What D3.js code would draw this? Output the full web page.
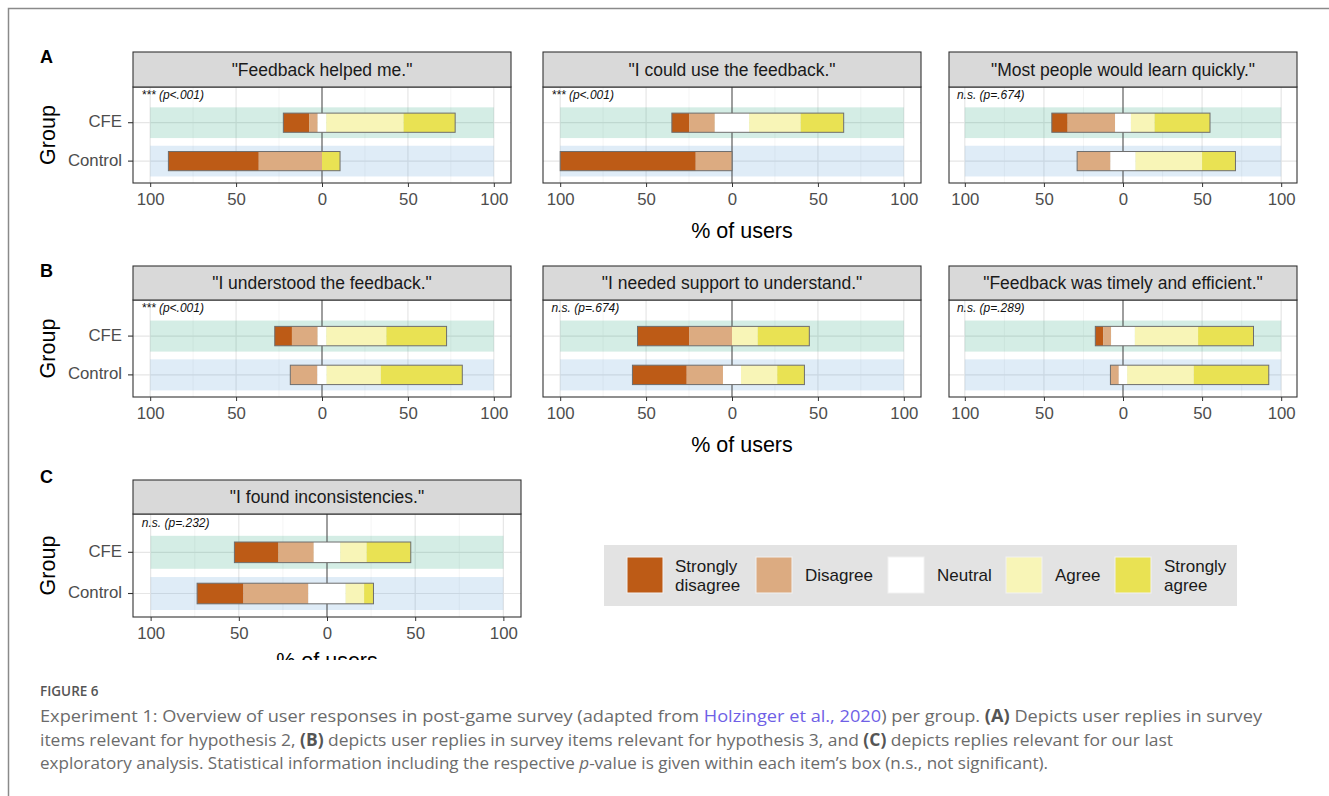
<!DOCTYPE html>
<html>
<head>
<meta charset="utf-8">
<script src="https://cdn.jsdelivr.net/npm/d3@7"></script>
<style>
  body { margin: 0; background: #fff; }
</style>
</head>
<body>
<script>
// DATA
const items = ['"Feedback helped me."', '"I could use the feedback."', '"Most people would learn quickly."',
  '"I understood the feedback."', '"I needed support to understand."', '"Feedback was timely and efficient."',
  '"I found inconsistencies."'];
const pLabels = ['*** (p<.001)', '*** (p<.001)', 'n.s. (p=.674)', '*** (p<.001)', 'n.s. (p=.674)',
  'n.s. (p=.289)', 'n.s. (p=.232)'];
const levels = ['Strongly disagree', 'Disagree', 'Neutral', 'Agree', 'Strongly agree'];
const legendLines = [['Strongly', 'disagree'], ['Disagree'], ['Neutral'], ['Agree'], ['Strongly', 'agree']];
const groups = ['CFE', 'Control'];
// % of users per answer level (same order as levels), one row per item
const cfeValues = [
  [15, 5, 5, 45, 30],
  [10, 15, 20, 30, 25],
  [10, 30, 10, 15, 35],
  [10, 15, 5, 35, 35],
  [30, 25, 0, 15, 30],
  [5, 5, 15, 40, 35],
  [25, 20, 15, 15, 25]
];
const controlValues = [
  [52.6, 36.8, 0, 0, 10.5],
  [78.9, 21.1, 0, 0, 0],
  [0, 21.1, 15.8, 42.1, 21.1],
  [0, 15.8, 5.3, 31.6, 47.4],
  [31.6, 21.1, 10.5, 21.1, 15.8],
  [0, 5.3, 5.3, 42.1, 47.4],
  [26.3, 36.8, 21.1, 10.5, 5.3]
];
const majorTicks = [-100, -50, 0, 50, 100];
const minorTicks = [-75, -25, 25, 75];
const rowLetters = ['A', 'B', 'C'];

// DEFS
const width = 1329;
const height = 796;
const levelColors = ['#bd5b16', '#dcab81', '#ffffff', '#f8f5b7', '#e9e253'];
const bandColors = {CFE: 'rgba(27,158,119,0.19)', Control: 'rgba(80,150,210,0.18)'};
const chartFont = '"Liberation Sans", Arial, sans-serif';
const captionFont = '"Open Sans", "Noto Sans", sans-serif';

// panel boxes: left/right edge, strip top, strip bottom (= panel top), panel bottom
const panels = [
  {x0: 133, x1: 511, top: 52, strip: 87, bottom: 183, yAxis: true},
  {x0: 543, x1: 921, top: 52, strip: 87, bottom: 183, xTitle: 742},
  {x0: 949, x1: 1297, top: 52, strip: 87, bottom: 183},
  {x0: 133, x1: 511, top: 266, strip: 300, bottom: 397, yAxis: true},
  {x0: 543, x1: 921, top: 266, strip: 300, bottom: 397, xTitle: 742},
  {x0: 949, x1: 1297, top: 266, strip: 300, bottom: 397},
  {x0: 133, x1: 521, top: 480, strip: 514, bottom: 617, yAxis: true, xTitle: 327, titleY: 668}
];
const letterPos = [{x: 40, y: 63}, {x: 40, y: 277}, {x: 40, y: 483}];

const svg = d3.select('body').append('svg')
  .attr('width', width).attr('height', height)
  .style('font-family', chartFont);

svg.append('rect').attr('width', width).attr('height', height).attr('fill', '#fff');

// outer frame
svg.append('path')
  .attr('d', `M8.5,${height} L8.5,8.5 L${width},8.5`)
  .attr('fill', 'none').attr('stroke', '#8a8a8a').attr('stroke-width', 1.5);

// the figure is cut off just below the last axis
svg.append('clipPath').attr('id', 'figClip')
  .append('rect').attr('x', 0).attr('y', 0).attr('width', width).attr('height', 660);

const fig = svg.append('g').attr('clip-path', 'url(#figClip)');

rowLetters.forEach((l, i) => {
  fig.append('text')
    .attr('x', letterPos[i].x).attr('y', letterPos[i].y)
    .style('font-size', '18px').style('font-weight', 'bold')
    .text(l);
});

// stack each row so that the neutral answer is centred on 0
const stackRow = vals => {
  let start = -(vals[0] + vals[1] + vals[2] / 2);
  return vals.map((v, i) => {
    const seg = {level: levels[i], x0: start, x1: start + v, color: levelColors[i]};
    start += v;
    return seg;
  });
};

panels.forEach((p, idx) => {
  const g = fig.append('g').attr('class', 'panel');
  const x = d3.scaleLinear().domain([-110, 110]).range([p.x0, p.x1]);
  const y = d3.scaleLinear().domain([0.43, 2.93]).range([p.bottom, p.strip]);
  const groupY = {CFE: 2, Control: 1};

  // grid
  g.selectAll('.minor').data(minorTicks).enter().append('line')
    .attr('x1', d => x(d)).attr('x2', d => x(d))
    .attr('y1', p.strip).attr('y2', p.bottom)
    .attr('stroke', '#f2f2f2').attr('stroke-width', 0.8);
  g.selectAll('.major').data(majorTicks).enter().append('line')
    .attr('x1', d => x(d)).attr('x2', d => x(d))
    .attr('y1', p.strip).attr('y2', p.bottom)
    .attr('stroke', '#e6e6e6').attr('stroke-width', 1.2);
  g.selectAll('.hgrid').data(groups).enter().append('line')
    .attr('x1', p.x0).attr('x2', p.x1)
    .attr('y1', d => y(groupY[d])).attr('y2', d => y(groupY[d]))
    .attr('stroke', '#e6e6e6').attr('stroke-width', 1.2);

  // background bands
  g.selectAll('.band').data(groups).enter().append('rect')
    .attr('x', x(-100)).attr('width', x(100) - x(-100))
    .attr('y', d => y(groupY[d] + 0.4)).attr('height', y(0) - y(0.8))
    .attr('fill', d => bandColors[d]);

  // zero line
  g.append('line')
    .attr('x1', x(0)).attr('x2', x(0))
    .attr('y1', p.strip).attr('y2', p.bottom)
    .attr('stroke', '#4d4d4d').attr('stroke-width', 1);

  // bars
  const rows = [{group: 'CFE', segs: stackRow(cfeValues[idx])},
                {group: 'Control', segs: stackRow(controlValues[idx])}];
  rows.forEach(r => {
    const barTop = y(groupY[r.group] + 0.25);
    const barH = y(0) - y(0.5);
    const segs = r.segs.filter(s => s.x1 - s.x0 > 0);
    g.selectAll(null).data(segs).enter().append('rect')
      .attr('x', s => x(s.x0)).attr('width', s => x(s.x1) - x(s.x0))
      .attr('y', barTop).attr('height', barH)
      .attr('fill', s => s.color);
    const lo = d3.min(segs, s => s.x0), hi = d3.max(segs, s => s.x1);
    g.append('rect')
      .attr('x', x(lo)).attr('width', x(hi) - x(lo))
      .attr('y', barTop).attr('height', barH)
      .attr('fill', 'none').attr('stroke', '#6e6e6e').attr('stroke-width', 1);
  });

  // p-value note
  g.append('text')
    .attr('x', x(-105)).attr('y', y(2.7))
    .attr('dominant-baseline', 'middle')
    .style('font-size', '12px').style('font-style', 'italic')
    .attr('fill', '#111')
    .text(pLabels[idx]);

  // panel border
  g.append('rect')
    .attr('x', p.x0).attr('y', p.strip)
    .attr('width', p.x1 - p.x0).attr('height', p.bottom - p.strip)
    .attr('fill', 'none').attr('stroke', '#333').attr('stroke-width', 1.1);

  // strip
  g.append('rect')
    .attr('x', p.x0).attr('y', p.top)
    .attr('width', p.x1 - p.x0).attr('height', p.strip - p.top)
    .attr('fill', '#d9d9d9').attr('stroke', '#333').attr('stroke-width', 1.1);
  g.append('text')
    .attr('x', (p.x0 + p.x1) / 2).attr('y', (p.top + p.strip) / 2 + 6)
    .attr('text-anchor', 'middle')
    .style('font-size', '17.5px').attr('fill', '#1a1a1a')
    .text(items[idx]);

  // x axis
  const xAxis = d3.axisBottom(x).tickValues(majorTicks)
    .tickSize(4).tickPadding(6).tickFormat(d => Math.abs(d));
  const ax = g.append('g').attr('transform', `translate(0,${p.bottom})`).call(xAxis);
  ax.select('.domain').remove();
  ax.selectAll('.tick line').attr('stroke', '#333');
  ax.selectAll('.tick text')
    .attr('fill', '#4d4d4d').style('font-size', '16.8px').style('font-family', chartFont);

  if (p.xTitle) {
    g.append('text')
      .attr('x', p.xTitle).attr('y', p.titleY || p.bottom + 55)
      .attr('text-anchor', 'middle')
      .style('font-size', '21.5px').attr('fill', '#000')
      .text('% of users');
  }

  // y axis
  if (p.yAxis) {
    groups.forEach(gr => {
      g.append('line')
        .attr('x1', p.x0 - 5).attr('x2', p.x0)
        .attr('y1', y(groupY[gr])).attr('y2', y(groupY[gr]))
        .attr('stroke', '#333').attr('stroke-width', 1.1);
      g.append('text')
        .attr('x', p.x0 - 11).attr('y', y(groupY[gr]))
        .attr('text-anchor', 'end').attr('dominant-baseline', 'middle')
        .style('font-size', '16.8px').attr('fill', '#4d4d4d')
        .text(gr);
    });
    const cy = (p.strip + p.bottom) / 2;
    g.append('text')
      .attr('transform', `translate(55,${cy}) rotate(-90)`)
      .attr('text-anchor', 'middle')
      .style('font-size', '21.5px').attr('fill', '#000')
      .text('Group');
  }
});

// LEGEND
const legend = svg.append('g').attr('class', 'legend');
legend.append('rect')
  .attr('x', 604).attr('y', 545).attr('width', 633).attr('height', 61)
  .attr('fill', '#e3e3e3');
const keyX = [627, 756, 888, 1006, 1115];
const keyText = [675, 805, 937, 1055, 1164];
levels.forEach((lv, i) => {
  legend.append('rect')
    .attr('x', keyX[i]).attr('y', 557).attr('width', 36).attr('height', 36)
    .attr('fill', levelColors[i]).attr('stroke', '#f2f2f2').attr('stroke-width', 1);
  const t = legend.append('text')
    .attr('x', keyText[i])
    .style('font-size', '17px').attr('fill', '#1a1a1a');
  const lines = legendLines[i];
  lines.forEach((ln, j) => {
    t.append('tspan')
      .attr('x', keyText[i])
      .attr('y', lines.length === 1 ? 581 : 572 + j * 19)
      .text(ln);
  });
});

// CAPTION
const cap = svg.append('g').style('font-family', captionFont);
cap.append('text')
  .attr('x', 40).attr('y', 696)
  .style('font-size', '13.5px').style('font-weight', '600').attr('fill', '#555')
  .text('FIGURE 6');

const captionLines = [
  [['Experiment 1: Overview of user responses in post-game survey (adapted from '], ['Holzinger et al., 2020', 'link'],
   [') per group. '], ['(A)', 'b'], [' Depicts user replies in survey']],
  [['items relevant for hypothesis 2, '], ['(B)', 'b'], [' depicts user replies in survey items relevant for hypothesis 3, and '],
   ['(C)', 'b'], [' depicts replies relevant for our last']],
  [['exploratory analysis. Statistical information including the respective '], ['p', 'i'],
   ['-value is given within each item\u2019s box (n.s., not significant).']]
];
const captionWidths = [1222, 1133, 1008];
captionLines.forEach((parts, li) => {
  const t = cap.append('text')
    .attr('x', 40).attr('y', 722 + li * 23.5)
    .attr('textLength', captionWidths[li]).attr('lengthAdjust', 'spacingAndGlyphs')
    .style('font-size', '17px').attr('fill', '#6b6b6b');
  parts.forEach(([s, kind]) => {
    const ts = t.append('tspan').text(s);
    if (kind === 'link') ts.attr('fill', '#6f5fe6');
    if (kind === 'b') ts.style('font-weight', 'bold').attr('fill', '#555');
    if (kind === 'i') ts.style('font-style', 'italic');
  });
});
</script>
</body>
</html>
